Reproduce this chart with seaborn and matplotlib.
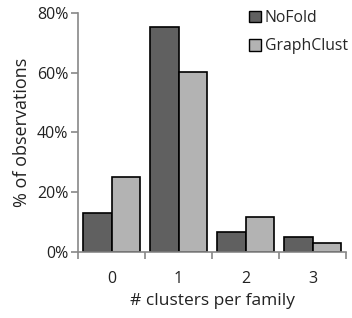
import matplotlib
matplotlib.use("Agg")
import matplotlib.pyplot as plt
import seaborn as sns
import pandas as pd
from matplotlib.ticker import FixedLocator, PercentFormatter

categories = ["0", "1", "2", "3"]
nofold = [13.0, 75.2, 6.6, 4.9]
graphclust = [25.1, 60.1, 11.6, 3.0]
series = ["NoFold", "GraphClust"]
colors = ["#606060", "#b3b3b3"]

df = pd.DataFrame({
    "cat": categories * 2,
    "val": nofold + graphclust,
    "series": [series[0]] * 4 + [series[1]] * 4,
})

sns.set_style("white")
plt.rcParams['font.family'] = ['Open Sans', 'DejaVu Sans']

fig = plt.figure(figsize=(3.52, 3.18), dpi=100)
ax = fig.add_axes([0.222, 0.208, 0.761, 0.751])
sns.barplot(data=df, x="cat", y="val", hue="series", palette=colors,
            width=0.86, edgecolor="black", linewidth=1.2, ax=ax, gap=0)

ax.set_ylim(0, 80)
ax.set_xlim(-0.5, 3.5)
ax.set_yticks([0, 20, 40, 60, 80])
ax.yaxis.set_major_formatter(PercentFormatter(decimals=0))
ax.set_xlabel("# clusters per family", fontsize=12.5, color="#222222", labelpad=4)
ax.set_ylabel("% of observations", fontsize=13, color="#222222", labelpad=4)
ax.xaxis.set_minor_locator(FixedLocator([-0.5, 0.5, 1.5, 2.5, 3.5]))
ax.tick_params(axis="x", which="major", length=0, labelsize=11.5, pad=14, colors="#222222")
ax.tick_params(axis="x", which="minor", length=5, width=1.2, direction="out", color="#888888", bottom=True)
ax.tick_params(axis="y", which="major", length=5, width=1.2, direction="out", labelsize=11.5, color="#888888", labelcolor="#222222", left=True, pad=2)
for s in ["top", "right"]:
    ax.spines[s].set_visible(False)
for s in ["left", "bottom"]:
    ax.spines[s].set_color("#888888")
    ax.spines[s].set_linewidth(1.2)

leg = ax.legend(loc="upper right", frameon=False, fontsize=11.3, handlelength=0.75,
                handleheight=0.75, handletextpad=0.25, labelspacing=0.8,
                borderaxespad=0.0, bbox_to_anchor=(1.03, 1.04))
for h in leg.legend_handles:
    h.set_edgecolor("black")
    h.set_linewidth(1.0)

fig.savefig("out.png", dpi=100)
